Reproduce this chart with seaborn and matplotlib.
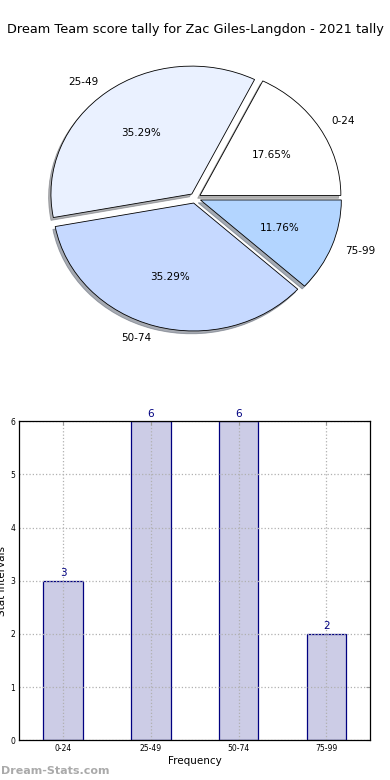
import matplotlib
matplotlib.use('Agg')
import matplotlib.pyplot as plt
import seaborn as sns
import pandas as pd

# data
bins = ['0-24', '25-49', '50-74', '75-99']
counts = [3, 6, 6, 2]
pie_colors = ['#ffffff', '#eaf1ff', '#c6d9ff', '#b3d5ff']
title = 'Dream Team score tally for Zac Giles-Langdon - 2021 tally'

sns.set_style('white')
plt.rcParams['font.family'] = ['DejaVu Sans']
plt.rcParams['text.color'] = 'black'
plt.rcParams['axes.labelcolor'] = 'black'
plt.rcParams['xtick.color'] = 'black'
plt.rcParams['ytick.color'] = 'black'

fig = plt.figure(figsize=(3.9, 7.8), dpi=100)
fig.patch.set_facecolor('white')

fig.text(0.5, 0.962, title, ha='center', va='center', fontsize=9.3)

#%% pie
ax1 = fig.add_axes([0.049, 0.541, 0.903, 0.41])
wedges, texts, autotexts = ax1.pie(
    counts, labels=bins, colors=pie_colors, autopct='%1.2f%%',
    explode=[0.04] * len(counts),
    shadow={'ox': -0.012, 'oy': -0.016, 'shade': 0.6}, startangle=0,
    labeldistance=1.1, pctdistance=0.6,
    wedgeprops=dict(edgecolor='black', linewidth=0.6),
    textprops=dict(fontsize=7.5, color='black'))
ax1.set_aspect('auto')
ax1.set_xlim(-1.25, 1.25)
ax1.set_ylim(-1.25, 1.25)
ax1.axis('off')

#%% bars
ax2 = fig.add_axes([0.0495, 0.051, 0.9, 0.409])
df = pd.DataFrame({'bin': bins, 'count': counts})
sns.barplot(data=df, x='bin', y='count', ax=ax2, width=0.45, color='#ccccE6',
            saturation=1, edgecolor='#000080', linewidth=0.9)
ax2.set_xlim(-0.5, 3.5)
ax2.set_ylim(0, 6)
ax2.set_yticks(range(0, 7))
ax2.grid(True, linestyle=':', color='#b0b0b0', linewidth=0.9)
ax2.set_axisbelow(False)
for p in ax2.patches:
    p.set_zorder(1)
for i, v in enumerate(counts):
    ax2.text(i, v + 0.05, str(v), ha='center', va='bottom', color='#000080', fontsize=7.5)
ax2.tick_params(axis='both', labelsize=5.5, direction='in', length=3, color='#999999',
                labelcolor='black', top=True, right=True, pad=3)
for s in ax2.spines.values():
    s.set_color('black')
    s.set_linewidth(0.9)
    s.set_zorder(5)
ax2.set_xlabel('Frequency', fontsize=7.5, labelpad=2)
ax2.set_ylabel('Stat Intervals', fontsize=7.5, labelpad=2)

fig.text(0.003, 0.012, 'Dream-Stats.com', fontsize=8, color='#aaaaaa',
         fontweight='bold', ha='left', va='center')

plt.savefig('out.png', dpi=100)
